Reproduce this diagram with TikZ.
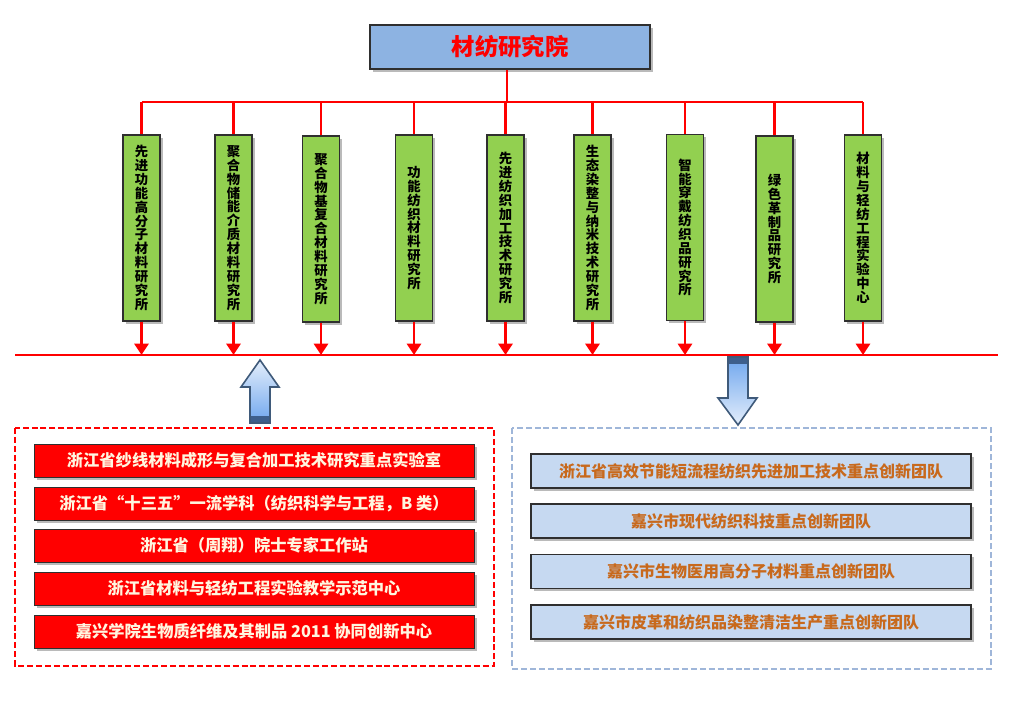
\documentclass[tikz,border=0pt]{standalone}
\usepackage{fontspec}
\newfontfamily\cjk{Noto Sans CJK SC}
\usetikzlibrary{shadows,arrows.meta}
\definecolor{gfill}{HTML}{92D050}
\definecolor{tfill}{HTML}{8DB3E2}
\definecolor{bfill}{HTML}{C6D9F1}
\definecolor{otext}{HTML}{C8691C}
\definecolor{rline}{HTML}{FF0000}
\definecolor{edge}{HTML}{2F2F2F}
\definecolor{cream}{HTML}{FFF6E0}
\definecolor{arrline}{HTML}{3F5A7A}
\definecolor{arrdark}{HTML}{3E5F8C}
\definecolor{arrblue}{HTML}{6FA6EE}
\definecolor{arrpale}{HTML}{E4EEFB}
\definecolor{bdash}{HTML}{9FB6D9}
\begin{document}
\begin{tikzpicture}[x=0.75pt,y=-0.75pt,
  shad/.style={drop shadow={shadow xshift=2pt,shadow yshift=-2pt,opacity=0.45,fill=black!60}},
  titlebox/.style={draw=edge,line width=0.8pt,fill=tfill,shad,minimum width=210pt,minimum height=33pt,inner sep=0pt,
    font=\cjk\bfseries\fontsize{17.5}{20}\selectfont,text=rline},
  greenbox/.style={draw=edge,line width=0.8pt,fill=gfill,shad,minimum width=27.75pt,minimum height=139.5pt,inner sep=0pt,
    align=center,font=\cjk\bfseries\fontsize{10}{10.4}\selectfont,text=black},
  redbox/.style={draw=edge,line width=0.6pt,fill=rline,shad,minimum width=330pt,minimum height=24.75pt,inner sep=0pt,
    font=\cjk\bfseries\fontsize{12.2}{14}\selectfont,text=cream},
  bluebox/.style={draw=edge,line width=0.8pt,fill=bfill,shad,minimum width=330pt,minimum height=25.5pt,inner sep=0pt,
    font=\cjk\bfseries\fontsize{12}{14}\selectfont,text=otext},
  redline/.style={draw=rline,line width=2.2pt},
  redarrow/.style={redline,-{Triangle[width=10.5pt,length=8.5pt]}},
  bigarrow/.style={draw=arrline,line width=1.2pt,line join=miter}
]
\useasboundingbox (0,0) rectangle (1024,701);

% title
\node[titlebox] (top) at (510,47) {材纺研究院};

% research institutes
\node[greenbox] (g1) at (141.5,228) {先\\进\\功\\能\\高\\分\\子\\材\\料\\研\\究\\所};
\node[greenbox] (g2) at (233.5,228) {聚\\合\\物\\储\\能\\介\\质\\材\\料\\研\\究\\所};
\node[greenbox] (g3) at (321,229) {聚\\合\\物\\基\\复\\合\\材\\料\\研\\究\\所};
\node[greenbox] (g4) at (414,228) {功\\能\\纺\\织\\材\\料\\研\\究\\所};
\node[greenbox] (g5) at (505.5,228) {先\\进\\纺\\织\\加\\工\\技\\术\\研\\究\\所};
\node[greenbox] (g6) at (592.5,228) {生\\态\\染\\整\\与\\纳\\米\\技\\术\\研\\究\\所};
\node[greenbox] (g7) at (685,227.5) {智\\能\\穿\\戴\\纺\\织\\品\\研\\究\\所};
\node[greenbox] (g8) at (774.5,229) {绿\\色\\革\\制\\品\\研\\究\\所};
\node[greenbox] (g9) at (863,228) {材\\料\\与\\轻\\纺\\工\\程\\实\\验\\中\\心};

% top bus
\coordinate (bus) at (507,102);
\draw[redline] (top.south -| bus) -- (bus);
\draw[redline] (g1.north |- bus) -- (g9.north |- bus);
\foreach \i in {1,...,9}{
  \draw[redline] (g\i.north |- bus) -- (g\i.north);
}

% bottom line
\coordinate (bl) at (15,355);
\coordinate (br) at (998,355);
\draw[redline] (bl) -- (br);
\foreach \i in {1,...,9}{
  \draw[redarrow] (g\i.south) -- (g\i.south |- bl);
}

% up arrow
\shade[top color=arrpale,bottom color=arrblue]
  (260,360) -- (279,387) -- (270,387) -- (270,423) -- (250,423) -- (250,387) -- (241,387) -- cycle;
\fill[arrdark] (250,416) rectangle (270,423);
\draw[bigarrow] (260,360) -- (279,387) -- (270,387) -- (270,423) -- (250,423) -- (250,387) -- (241,387) -- cycle;

% down arrow
\shade[top color=arrblue,bottom color=arrpale]
  (728,357) -- (748,357) -- (748,398) -- (757,398) -- (738,425) -- (718,398) -- (728,398) -- cycle;
\fill[arrdark] (728,357) rectangle (748,364);
\draw[bigarrow] (728,357) -- (748,357) -- (748,398) -- (757,398) -- (738,425) -- (718,398) -- (728,398) -- cycle;

% left frame
\draw[rline,line width=1.6pt,dash pattern=on 4.5pt off 2.2pt] (15,428) rectangle (494,666);
\node[redbox] (r1) at (254,460.5) {浙江省纱线材料成形与复合加工技术研究重点实验室};
\node[redbox] (r2) at (254,503.5) {浙江省“十三五”一流学科（纺织科学与工程，B 类）};
\node[redbox] (r3) at (254,545.5) {浙江省（周翔）院士专家工作站};
\node[redbox] (r4) at (254,588.5) {浙江省材料与轻纺工程实验教学示范中心};
\node[redbox] (r5) at (254,631.5) {嘉兴学院生物质纤维及其制品 2011 协同创新中心};

% right frame
\draw[bdash,line width=1.6pt,dash pattern=on 4.5pt off 2.2pt] (512,428) rectangle (991,669);
\node[bluebox] (b1) at (751,471) {浙江省高效节能短流程纺织先进加工技术重点创新团队};
\node[bluebox] (b2) at (751,521) {嘉兴市现代纺织科技重点创新团队};
\node[bluebox] (b3) at (751,571.5) {嘉兴市生物医用高分子材料重点创新团队};
\node[bluebox] (b4) at (751,622) {嘉兴市皮革和纺织品染整清洁生产重点创新团队};
\end{tikzpicture}
\end{document}
